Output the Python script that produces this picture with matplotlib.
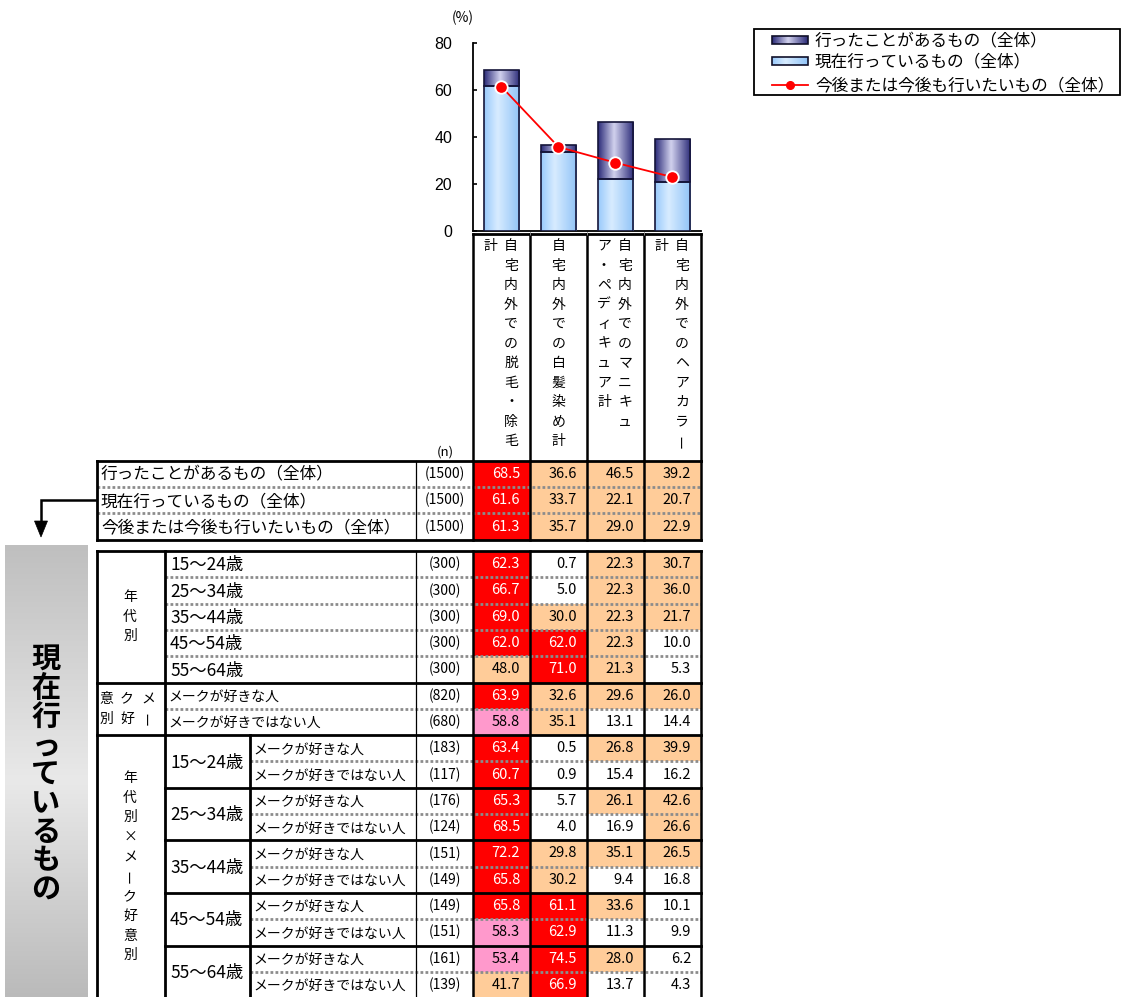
import numpy as np
import matplotlib
matplotlib.use('Agg')
import matplotlib.pyplot as plt
from matplotlib.patches import Rectangle, Polygon
from matplotlib.colors import LinearSegmentedColormap

plt.rcParams['font.family'] = ['Noto Sans CJK JP', 'DejaVu Sans']

# ---------------- data ----------------
column_headers = [["自宅内外での脱毛・除毛", "計"],
                  ["自宅内外での白髪染め計"],
                  ["自宅内外でのマニキュ", "ア・ペディキュア計"],
                  ["自宅内外でのヘアカラー", "計"]]
series_labels = ["行ったことがあるもの（全体）", "現在行っているもの（全体）",
                 "今後または今後も行いたいもの（全体）"]
experienced = [68.5, 36.6, 46.5, 39.2]
current = [61.6, 33.7, 22.1, 20.7]
future = [61.3, 35.7, 29.0, 22.9]
total_n = [1500, 1500, 1500]
yticks = [0, 20, 40, 60, 80]

age_labels = ["15～24歳", "25～34歳", "35～44歳", "45～54歳", "55～64歳"]
age_n = [300, 300, 300, 300, 300]
age_values = [[62.3, 0.7, 22.3, 30.7],
              [66.7, 5.0, 22.3, 36.0],
              [69.0, 30.0, 22.3, 21.7],
              [62.0, 62.0, 22.3, 10.0],
              [48.0, 71.0, 21.3, 5.3]]
like_labels = ["メークが好きな人", "メークが好きではない人"]
like_n = [820, 680]
like_values = [[63.9, 32.6, 29.6, 26.0],
               [58.8, 35.1, 13.1, 14.4]]
cross_n = [183, 117, 176, 124, 151, 149, 149, 151, 161, 139]
cross_values = [[63.4, 0.5, 26.8, 39.9],
                [60.7, 0.9, 15.4, 16.2],
                [65.3, 5.7, 26.1, 42.6],
                [68.5, 4.0, 16.9, 26.6],
                [72.2, 29.8, 35.1, 26.5],
                [65.8, 30.2, 9.4, 16.8],
                [65.8, 61.1, 33.6, 10.1],
                [58.3, 62.9, 11.3, 9.9],
                [53.4, 74.5, 28.0, 6.2],
                [41.7, 66.9, 13.7, 4.3]]
section_age = "年代別"
section_like_cols = ["メー", "ク好", "意別"]   # vertical columns, right to left
section_cross = "年代別×メーク好意別"
side_title = "現在行っているもの"

# ---------------- figure ----------------
W, H = 1130, 997
fig = plt.figure(figsize=(W / 100, H / 100), dpi=100)
bg = fig.add_axes([0, 0, 1, 1])
bg.axis('off')

RED, PINK, ORANGE, WHITE = '#ff0000', '#ff99cc', '#ffcc99', '#ffffff'
X_LEFT, X_GRP, X_AGE, X_N = 97, 165, 250, 416
X_DATA = [473, 530, 587, 644, 701]
X_RIGHT = 701
N_X = 445
TXT_DY = 1.2


def cell_color(v):
    if v >= 60:
        return RED
    if v >= 50:
        return PINK
    if v >= 20:
        return ORANGE
    return WHITE


def hline(x0, x1, y, lw=1.6, dotted=False):
    if dotted:
        bg.plot([x0, x1], [y, y], color='#8c8c8c', lw=2.0, ls=(0, (1, 0.8)),
                solid_capstyle='butt', zorder=3)
    else:
        bg.plot([x0, x1], [y, y], color='black', lw=lw,
                solid_capstyle='projecting', zorder=4)


def vline(x, y0, y1, lw=1.6):
    bg.plot([x, x], [y0, y1], color='black', lw=lw,
            solid_capstyle='projecting', zorder=4)


def draw_row(y_top, h, label, label_x, label_fs, n, values):
    yc = y_top + h / 2
    if label is not None:
        bg.text(label_x, yc + TXT_DY, label, fontsize=label_fs, ha='left', va='center', zorder=5)
    bg.text(N_X, yc, f"({n})", fontsize=10, ha='center', va='center', zorder=5)
    for j, v in enumerate(values):
        x0, x1 = X_DATA[j], X_DATA[j + 1]
        bg.add_patch(Rectangle((x0, y_top), x1 - x0, h, facecolor=cell_color(v),
                               edgecolor='none', zorder=1))
        bg.text(x1 - 10, yc, f"{v:.1f}", ha='right', va='center', fontsize=10.5,
                color='white' if v >= 60 else 'black', zorder=5)


def vtext(x, y0, step, s, fs=10, **kw):
    for k, ch in enumerate(s):
        rot = 90 if ch == 'ー' else 0
        bg.text(x, y0 + k * step, ch, fontsize=fs, ha='center', va='center',
                rotation=rot, zorder=5, **kw)


def hgrad(axis, x0, x1, y0, y1, colors, clip=None, z=2):
    cmap = LinearSegmentedColormap.from_list('g', colors)
    g = np.linspace(0, 1, 256).reshape(1, -1)
    im = axis.imshow(g, extent=[x0, x1, y0, y1], aspect='auto', cmap=cmap,
                     interpolation='bicubic', zorder=z)
    if clip is not None:
        im.set_clip_path(clip)
    return im


LIGHT = [(0, '#98c9fb'), (0.38, '#d8ecff'), (1, '#90c3f7')]
DARK = [(0, '#2a2a78'), (0.45, '#d2d2ee'), (1, '#2a2a78')]

# ---------------- header (vertical column titles) ----------------
HDR_TOP, TBL1_TOP = 234.5, 461
for j, lines in enumerate(column_headers):
    x0, x1 = X_DATA[j], X_DATA[j + 1]
    if len(lines) == 1:
        xs = [(x0 + x1) / 2]
    else:
        xs = [x0 + 38, x0 + 17]
    for xx, line in zip(xs, lines):
        vtext(xx, 246, 19.5, line, fs=10)
hline(X_DATA[0], X_RIGHT, HDR_TOP, lw=2)
for x in X_DATA:
    vline(x, HDR_TOP, TBL1_TOP, lw=1.8)
bg.text(N_X, 452, "(n)", fontsize=9.5, ha='center', va='center')

# ---------------- top table ----------------
h1 = 26.2
for i, vals in enumerate([experienced, current, future]):
    draw_row(TBL1_TOP + i * h1, h1, series_labels[i], 101, 12, total_n[i], vals)
t1_bot = TBL1_TOP + 3 * h1
hline(X_LEFT, X_RIGHT, TBL1_TOP, lw=2)
hline(X_LEFT, X_RIGHT, t1_bot, lw=2)
for i in (1, 2):
    hline(X_LEFT, X_RIGHT, TBL1_TOP + i * h1, dotted=True)
vline(X_LEFT, TBL1_TOP, t1_bot, lw=2)
vline(X_N, TBL1_TOP, t1_bot, lw=0.9)
for x in X_DATA:
    vline(x, TBL1_TOP, t1_bot, lw=1.8)

# ---------------- main table ----------------
T2 = 551
h2 = 26.3
row = 0
for i in range(len(age_labels)):
    draw_row(T2 + row * h2, h2, age_labels[i], 170, 12.5, age_n[i], age_values[i])
    row += 1
for i in range(len(like_labels)):
    draw_row(T2 + row * h2, h2, like_labels[i], 168, 10, like_n[i], like_values[i])
    row += 1
for i in range(len(cross_values)):
    draw_row(T2 + row * h2, h2, like_labels[i % 2], 253, 10, cross_n[i], cross_values[i])
    if i % 2 == 0:
        bg.text(170, T2 + (row + 1) * h2 + TXT_DY, age_labels[i // 2], fontsize=12.5,
                ha='left', va='center', zorder=5)
    row += 1
T2_BOT = T2 + row * h2

# group labels
vtext(130, T2 + 2.5 * h2 - 19.5, 19.5, section_age, fs=10)
for k, col in enumerate(section_like_cols):
    vtext([148, 127, 106][k], T2 + 5 * h2 + 16, 20, col, fs=10)
nc = len(section_cross)
vtext(130, T2 + 7 * h2 + 5 * h2 - (nc - 1) * 19.7 / 2, 19.7, section_cross, fs=10)

# grid lines
hline(X_LEFT, X_RIGHT, T2, lw=2)
for k in (1, 2, 3, 4, 6):
    hline(X_GRP, X_RIGHT, T2 + k * h2, dotted=True)
for k in (5, 7):
    hline(X_LEFT, X_RIGHT, T2 + k * h2, lw=2)
for k in (9, 11, 13, 15):
    hline(X_GRP, X_RIGHT, T2 + k * h2, lw=2)
for k in (8, 10, 12, 14, 16):
    hline(X_AGE, X_RIGHT, T2 + k * h2, dotted=True)
vline(X_LEFT, T2, T2_BOT + 5, lw=2)
vline(X_GRP, T2, T2_BOT + 5, lw=2)
vline(X_AGE, T2 + 7 * h2, T2_BOT + 5, lw=2)
vline(X_N, T2, T2_BOT + 5, lw=0.9)
for x in X_DATA:
    vline(x, T2, T2_BOT + 5, lw=1.8)

# ---------------- side box and arrow ----------------
cmap_gray = LinearSegmentedColormap.from_list('gray', [(0, '#bfbfbf'), (0.52, '#e9e9e9'), (1, '#bababa')])
gv = np.linspace(0, 1, 256).reshape(-1, 1)
bg.imshow(gv, extent=[5, 88, 998, 545], origin='upper', aspect='auto', cmap=cmap_gray,
          interpolation='bicubic', zorder=1)
vtext(46, 659, 28.8, side_title, fs=21, fontweight='bold')

bg.plot([X_LEFT - 2, 41, 41], [500, 500, 522], color='black', lw=1.8, zorder=4,
        solid_joinstyle='miter')
bg.add_patch(Polygon([(34.5, 521), (47.5, 521), (41, 537)], closed=True,
                     facecolor='black', edgecolor='black', lw=0.5, zorder=4))

# ---------------- legend ----------------
bg.add_patch(Rectangle((754, 29), 366, 66, facecolor='white', edgecolor='black', lw=1.3, zorder=2))
leg_y = [40.5, 61, 85]
for k, cols in enumerate([DARK, LIGHT]):
    rect = Rectangle((772, leg_y[k] - 4), 36, 8, facecolor='none', edgecolor='#10102a', lw=1.2, zorder=4)
    bg.add_patch(rect)
    hgrad(bg, 772, 808, leg_y[k] + 4, leg_y[k] - 4, cols, clip=rect, z=3)
bg.plot([772, 808], [leg_y[2], leg_y[2]], color='red', lw=1.3, zorder=4)
bg.plot([790], [leg_y[2]], marker='o', ms=5.5, color='red', mec='red', zorder=5)
for k in range(3):
    bg.text(815, leg_y[k] + TXT_DY, series_labels[k], fontsize=12, ha='left', va='center', zorder=5)

bg.text(463, 18, "(%)", fontsize=10, ha='center', va='center')

bg.set_xlim(0, W)
bg.set_ylim(H, 0)

# ---------------- bar chart ----------------
y0_px, y80_px = 231, 42.7
ax = fig.add_axes([X_DATA[0] / W, (H - y0_px) / H, (X_RIGHT - X_DATA[0]) / W, (y0_px - y80_px) / H])
ax.patch.set_alpha(0)
xc = np.arange(len(current)) + 0.5
bw = 0.62
low = ax.bar(xc, current, width=bw, facecolor='none', edgecolor='#15153a', lw=1.2, zorder=4)
high = ax.bar(xc, np.array(experienced) - np.array(current), bottom=current, width=bw,
              facecolor='none', edgecolor='#15153a', lw=1.2, zorder=4)
for p in low.patches:
    hgrad(ax, p.get_x(), p.get_x() + p.get_width(), p.get_y(), p.get_y() + p.get_height(), LIGHT, clip=p, z=3)
for p in high.patches:
    hgrad(ax, p.get_x(), p.get_x() + p.get_width(), p.get_y(), p.get_y() + p.get_height(), DARK, clip=p, z=3)
ax.plot(xc, future, color='red', lw=1.3, marker='o', ms=9, mfc='red', mec='white',
        mew=1.3, zorder=6, clip_on=False)
ax.set_xlim(0, len(current))
ax.set_ylim(0, 80)
ax.set_yticks(yticks)
ax.set_yticklabels([str(t) for t in yticks], fontsize=11.5, family=['Liberation Sans', 'DejaVu Sans'])
ax.tick_params(axis='y', direction='in', length=3, width=1.2, pad=15)
ax.set_xticks([])
ax.set_xticks([1, 2, 3], minor=True)
ax.tick_params(axis='x', which='minor', direction='out', length=3, color='#999999')
for s in ('top', 'right'):
    ax.spines[s].set_visible(False)
for s in ('left', 'bottom'):
    ax.spines[s].set_linewidth(1.3)
ax.spines['left'].set_bounds(0, 80)

fig.savefig('out.png', dpi=100, facecolor='white')
